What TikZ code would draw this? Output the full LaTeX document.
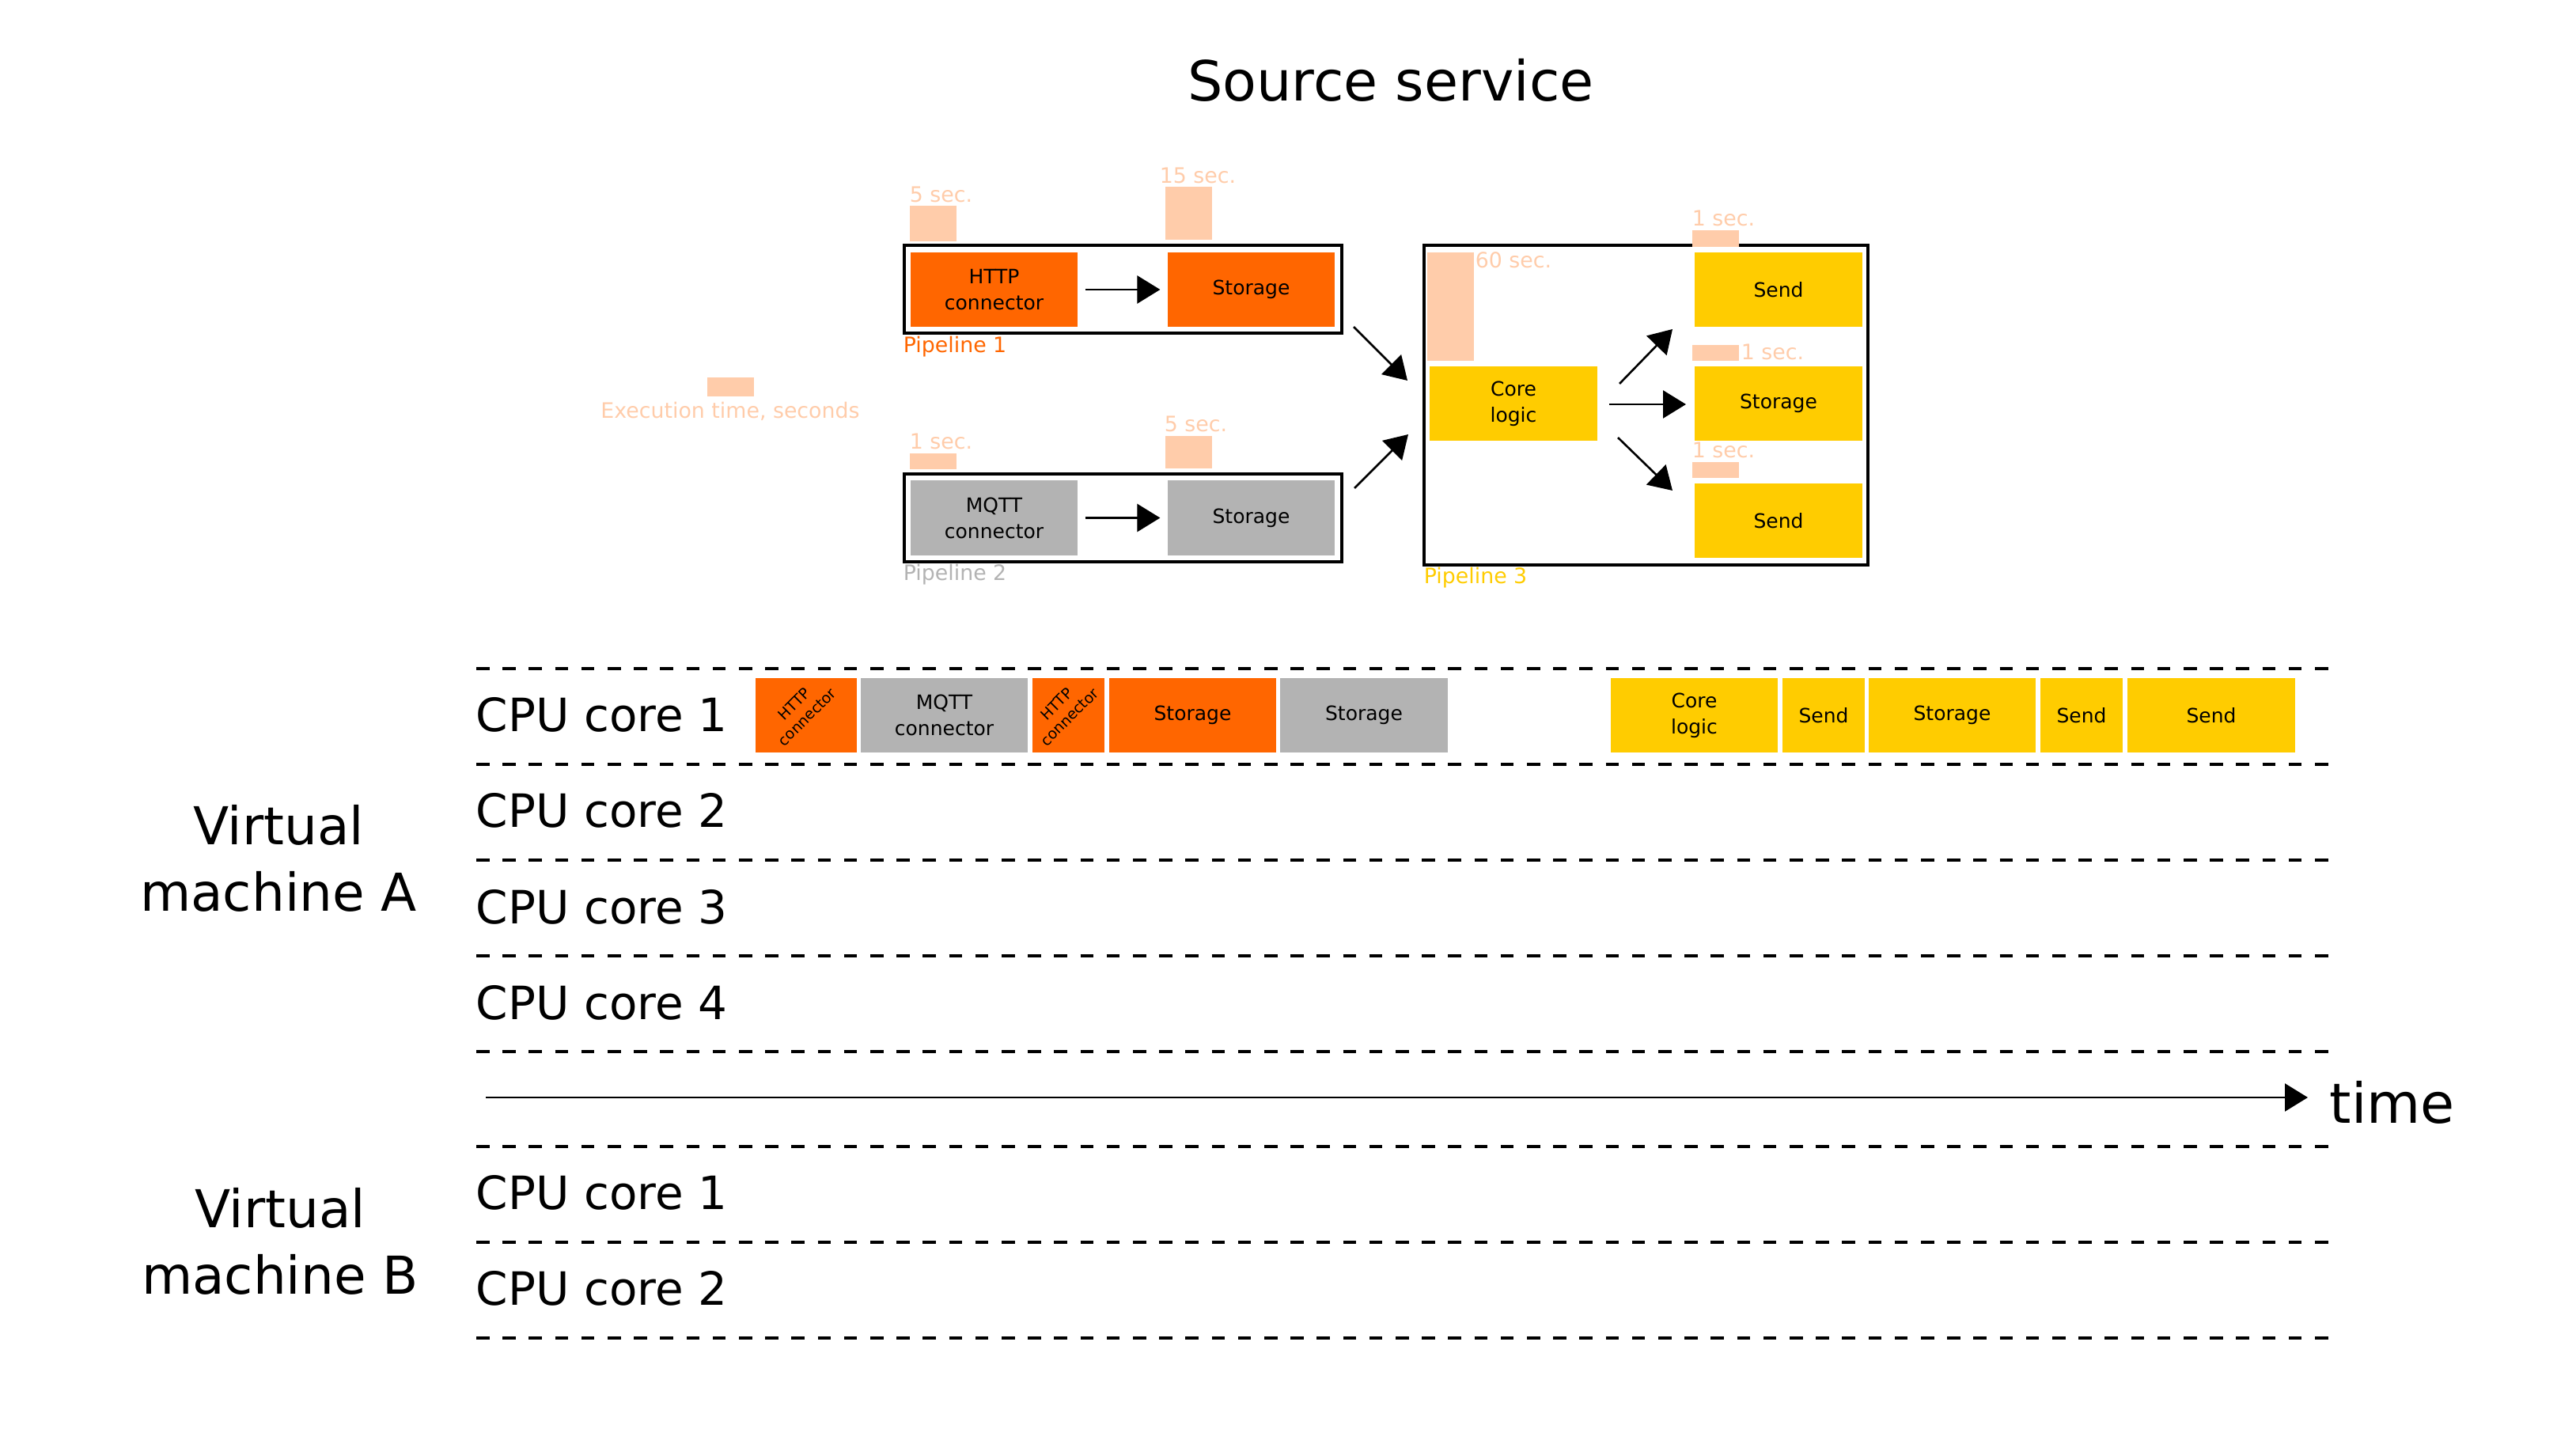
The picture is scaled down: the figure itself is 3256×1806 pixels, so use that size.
\documentclass[tikz,border=0pt]{standalone}
\usepackage{fontspec}
\setmainfont{DejaVu Sans}
\usetikzlibrary{arrows.meta}
\definecolor{orng}{HTML}{FF6600}
\definecolor{gry}{HTML}{B3B3B3}
\definecolor{ylw}{HTML}{FFCC00}
\definecolor{pch}{HTML}{FFCCAA}
\newcommand{\fsz}[2]{\fontsize{#1}{#2}\selectfont}
\begin{document}
\begin{tikzpicture}[x=0.25pt,y=-0.25pt,
  box/.style={draw=white, line width=0.3pt, minimum height=24pt, inner sep=0pt, align=center, font=\fsz{6.25}{8.25}},
  frame/.style={draw=black, line width=0.875pt, inner sep=0pt},
  seclbl/.style={text=pch, font=\fsz{6.7}{8}, inner sep=0pt, anchor=base west},
  plbl/.style={font=\fsz{6.7}{8}, inner sep=0pt, anchor=base west},
  arr/.style={line width=0.65pt, -{Triangle[length=7.25pt,width=8.75pt]}},
  dashline/.style={line width=1pt, dash pattern=on 4.15pt off 4.15pt},
  cpu/.style={font=\fsz{14.5}{17}, inner sep=0pt, anchor=base west},
  vm/.style={font=\fsz{16.5}{21}, align=center, inner sep=0pt},
  rotlbl/.style={rotate=45, font=\fsz{4.7}{5.8}, align=center, inner sep=0pt}
]
\useasboundingbox (0,0) rectangle (3256,1806);

% title
\node[font=\fsz{17.5}{21}, inner sep=0pt, anchor=base] (title) at (1758,128) {Source service};

% legend
\fill[pch] (894,477) rectangle (953,501);
\node[text=pch, font=\fsz{6.7}{8}, inner sep=0pt, anchor=base] (legend) at (923,529) {Execution time, seconds};

% pipeline 1
\node[frame, minimum width=138.25pt, minimum height=27.75pt] (p1) at (1419.5,365.5) {};
\node[box, fill=orng, minimum width=53.25pt] (http) at (1256.5,366) {HTTP\\connector};
\node[box, fill=orng, minimum width=53.25pt] (st1) at (1581.5,366) {Storage};
\draw[arr, shorten <=2pt, shorten >=2pt] (http) -- (st1);
\node[plbl, text=orng] (pl1) at (1141,446) {Pipeline 1};
\fill[pch] (1150,260) rectangle (1209,305);
\node[seclbl] (s1) at (1149,256) {5 sec.};
\fill[pch] (1473,236) rectangle (1532,303);
\node[seclbl] (s2) at (1465,232) {15 sec.};

% pipeline 2
\node[frame, minimum width=138.25pt, minimum height=27.75pt] (p2) at (1419.5,654.5) {};
\node[box, fill=gry, minimum width=53.25pt] (mqtt) at (1256.5,654.5) {MQTT\\connector};
\node[box, fill=gry, minimum width=53.25pt] (st2) at (1581.5,654.5) {Storage};
\draw[arr, shorten <=2pt, shorten >=2pt] (mqtt) -- (st2);
\node[plbl, text=gry] (pl2) at (1141,734) {Pipeline 2};
\fill[pch] (1150,573) rectangle (1209,593);
\node[seclbl] (s3) at (1149,568) {1 sec.};
\fill[pch] (1473,551) rectangle (1532,592);
\node[seclbl] (s4) at (1471,546) {5 sec.};

% pipeline 3
\node[frame, minimum width=140.25pt, minimum height=101pt] (p3) at (2080.5,512) {};
\node[box, fill=ylw, minimum width=53.5pt] (core) at (1913,510) {Core\\logic};
\node[box, fill=ylw, minimum width=53.5pt] (send1) at (2248,366) {Send};
\node[box, fill=ylw, minimum width=53.5pt] (st3) at (2248,510) {Storage};
\node[box, fill=ylw, minimum width=53.5pt] (send2) at (2248,658) {Send};
\node[plbl, text=ylw] (pl3) at (1799,738) {Pipeline 3};
\fill[pch] (1804,319) rectangle (1863,456);
\node[seclbl] (s5) at (1864,339) {60 sec.};
\fill[pch] (2139,291) rectangle (2198,312);
\node[seclbl] (s6) at (2138,286) {1 sec.};
\fill[pch] (2139,436) rectangle (2198,456);
\node[seclbl] (s7) at (2200,455) {1 sec.};
\fill[pch] (2139,584) rectangle (2198,604);
\node[seclbl] (s8) at (2138,579) {1 sec.};

% arrows between pipelines
\coordinate (d1s) at (1711,413);
\coordinate (d1e) at (1779,481);
\coordinate (d2s) at (1712,617);
\coordinate (d2e) at (1780,549);
\draw[arr] (d1s) -- (d1e);
\draw[arr] (d2s) -- (d2e);
\coordinate (c1s) at (2047,485);
\coordinate (c1e) at (2114,416);
\coordinate (c2s) at (2034,511);
\coordinate (c2e) at (2131,511);
\coordinate (c3s) at (2045,553);
\coordinate (c3e) at (2114,620);
\draw[arr] (c1s) -- (c1e);
\draw[arr] (c2s) -- (c2e);
\draw[arr] (c3s) -- (c3e);

% timeline grid
\foreach \yy in {845,966,1087,1208,1329,1449,1570,1691}
  \draw[dashline] (602,\yy) -- (2950,\yy);

\node[cpu] (a1) at (601,925) {CPU core 1};
\node[cpu] (a2) at (601,1046) {CPU core 2};
\node[cpu] (a3) at (601,1167) {CPU core 3};
\node[cpu] (a4) at (601,1288) {CPU core 4};
\node[cpu] (b1) at (601,1528) {CPU core 1};
\node[cpu] (b2) at (601,1649) {CPU core 2};
\node[vm] (vma) at (352,1085) {Virtual\\machine A};
\node[vm] (vmb) at (354,1568.5) {Virtual\\machine B};

% time arrow
\coordinate (t0) at (614,1387);
\coordinate (t1) at (2917,1387);
\draw[arr, line width=0.675pt] (t0) -- (t1);
\node[font=\fsz{17.5}{21}, inner sep=0pt, anchor=base west] (time) at (2944,1419) {time};

% CPU core 1 schedule
\node[box, fill=orng, minimum width=32.5pt] (th1) at (1019,904) {};
\node[rotlbl] (th1l) at ([shift={(-7,-6)}]th1.center) {HTTP\\connector};
\node[box, fill=gry, minimum width=53.25pt] (tm) at (1193.5,904) {MQTT\\connector};
\node[box, fill=orng, minimum width=23.25pt] (th2) at (1350.5,904) {};
\node[rotlbl] (th2l) at ([shift={(-7,-6)}]th2.center) {HTTP\\connector};
\node[box, fill=orng, minimum width=53.25pt] (ts1) at (1507.5,904) {Storage};
\node[box, fill=gry, minimum width=53.5pt] (ts2) at (1724,904) {Storage};
\node[box, fill=ylw, minimum width=53.25pt] (tc) at (2141.5,904) {Core\\logic};
\node[box, fill=ylw, minimum width=26.5pt] (tsd1) at (2305,904) {Send};
\node[box, fill=ylw, minimum width=53.25pt] (ts3) at (2467.5,904) {Storage};
\node[box, fill=ylw, minimum width=26.5pt] (tsd2) at (2631,904) {Send};
\node[box, fill=ylw, minimum width=53.5pt] (tsd3) at (2795,904) {Send};
\end{tikzpicture}
\end{document}
